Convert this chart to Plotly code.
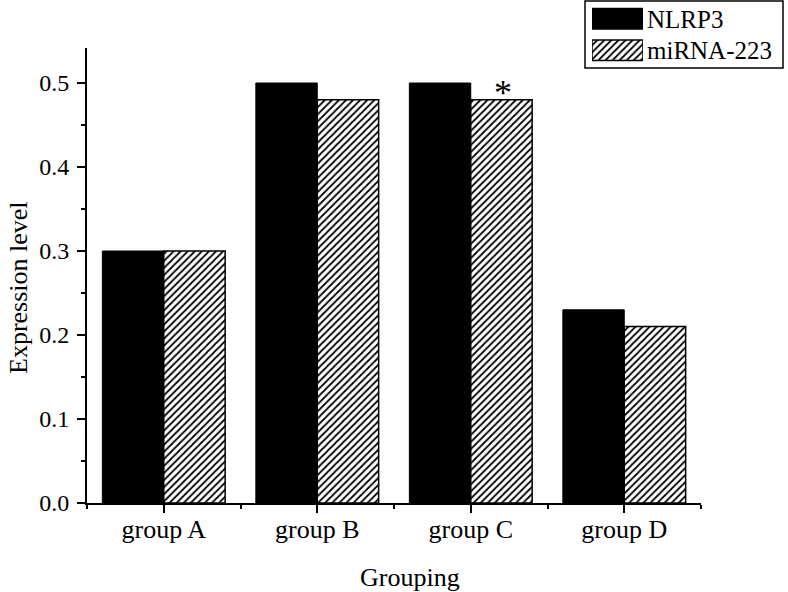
import plotly.graph_objects as go

categories = ["group A", "group B", "group C", "group D"]
nlrp3 = [0.30, 0.50, 0.50, 0.23]
mirna223 = [0.30, 0.48, 0.48, 0.21]
series_names = ["NLRP3", "miRNA-223"]
y_ticks = [0.0, 0.1, 0.2, 0.3, 0.4, 0.5]
star_category = "group C"

W, H = 788, 592
FONT = "Liberation Serif"

def px_x(p):
    return p / W

def px_y(p):
    return (H - p) / H

xpos = list(range(len(categories)))
hatch = dict(shape="/", fgcolor="black", bgcolor="white", size=5, solidity=0.35)

fig = go.Figure()
fig.add_trace(go.Bar(
    x=xpos, y=nlrp3, name=series_names[0], width=0.4, offset=-0.4,
    marker=dict(color="black", line=dict(color="black", width=1)),
    xaxis="x", yaxis="y", showlegend=False,
))
fig.add_trace(go.Bar(
    x=xpos, y=mirna223, name=series_names[1], width=0.4, offset=0,
    marker=dict(color="white", line=dict(color="black", width=1.5), pattern=hatch),
    xaxis="x", yaxis="y", showlegend=False,
))

# legend swatches drawn as a tiny bar subplot
fig.add_trace(go.Bar(
    x=[1], y=[series_names[0]], orientation="h", width=0.65,
    marker=dict(color="black", line=dict(color="black", width=1.5)),
    xaxis="x2", yaxis="y2", showlegend=False, hoverinfo="skip",
))
fig.add_trace(go.Bar(
    x=[1], y=[series_names[1]], orientation="h", width=0.65,
    marker=dict(color="white", line=dict(color="black", width=1.5), pattern=hatch),
    xaxis="x2", yaxis="y2", showlegend=False, hoverinfo="skip",
))

fig.update_layout(
    width=W, height=H,
    template="none",
    paper_bgcolor="white", plot_bgcolor="white",
    margin=dict(l=0, r=0, t=0, b=0),
    barmode="overlay",
    showlegend=False,
    font=dict(family=FONT, color="black"),
    xaxis=dict(
        domain=[px_x(87), px_x(701)], range=[-0.5, 3.5],
        tickmode="array", tickvals=xpos, ticktext=categories,
        showline=True, linecolor="black", linewidth=2,
        ticks="outside", ticklen=8, tickwidth=2, tickcolor="black",
        minor=dict(ticks="outside", ticklen=4, tickwidth=2, tickcolor="black",
                   tick0=0.5, dtick=1),
        showgrid=False, zeroline=False,
        tickfont=dict(family=FONT, size=26, color="black"),
        ticklabelstandoff=-6,
    ),
    yaxis=dict(
        domain=[px_y(503), px_y(48)], range=[0, (503 - 48) / 840],
        tickmode="array", tickvals=y_ticks, tickformat=".1f",
        showline=True, linecolor="black", linewidth=2,
        ticks="outside", ticklen=8, tickwidth=2, tickcolor="black",
        minor=dict(ticks="outside", ticklen=4, tickwidth=2, tickcolor="black",
                   tick0=0.05, dtick=0.1),
        showgrid=False, zeroline=False,
        tickfont=dict(family=FONT, size=24, color="black"),
        ticklabelstandoff=3,
    ),
    xaxis2=dict(
        domain=[px_x(592), px_x(643)], range=[0, 1], anchor="y2",
        visible=False, fixedrange=True,
    ),
    yaxis2=dict(
        domain=[px_y(66), px_y(3)], anchor="x2", side="right",
        categoryorder="array", categoryarray=series_names[::-1],
        range=[-0.5, 1.5], fixedrange=True,
        showline=False, showgrid=False, zeroline=False, ticks="",
        tickfont=dict(family=FONT, size=25, color="black"),
        ticklabelstandoff=3,
    ),
    shapes=[dict(type="rect", xref="paper", yref="paper",
                 x0=px_x(585), x1=px_x(783), y0=px_y(68), y1=px_y(1),
                 line=dict(color="black", width=1.5), fillcolor="rgba(0,0,0,0)")],
    annotations=[
        dict(text="Grouping", xref="paper", yref="paper", x=px_x(410), y=px_y(577),
             showarrow=False, font=dict(family=FONT, size=26, color="black"),
             xanchor="center", yanchor="middle"),
        dict(text="Expression level", xref="paper", yref="paper", x=px_x(18), y=px_y(288),
             showarrow=False, textangle=-90, font=dict(family=FONT, size=26, color="black"),
             xanchor="center", yanchor="middle"),
        dict(text="*", xref="x", yref="y",
             x=categories.index(star_category) + 0.2,
             y=mirna223[categories.index(star_category)],
             showarrow=False, yanchor="bottom", yshift=-15, xshift=2,
             font=dict(family=FONT, size=36, color="black")),
    ],
)

fig.write_html("out.html", config={"displayModeBar": False},
               post_script="document.body.style.margin='0';")
